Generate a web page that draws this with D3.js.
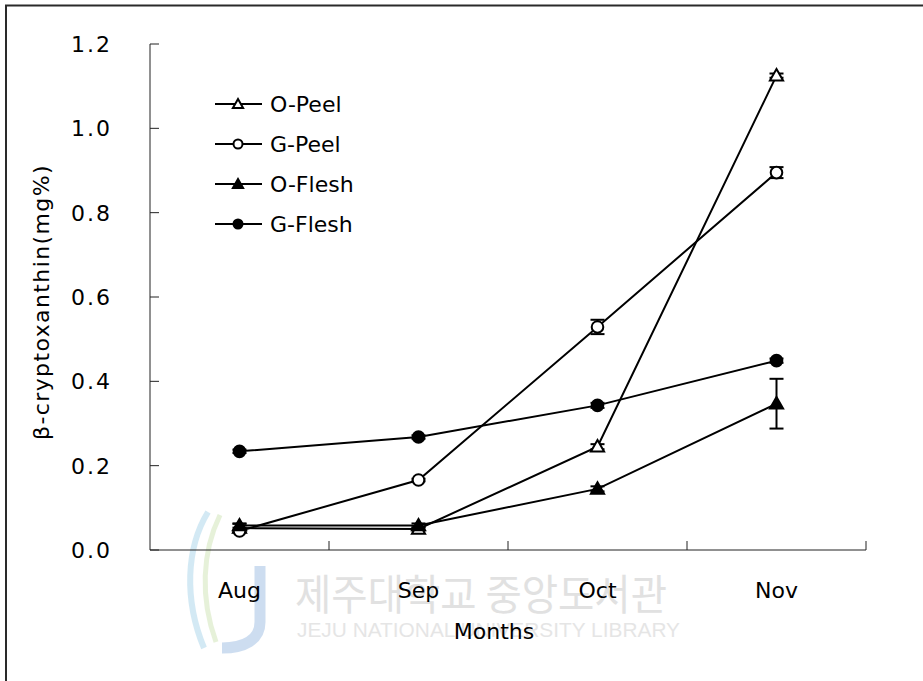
<!DOCTYPE html>
<html>
<head>
<meta charset="utf-8">
<script src="https://cdn.jsdelivr.net/npm/d3@7"></script>
<style>
  body { margin: 0; background: #fff; }
  text { font-family: "DejaVu Sans", "Liberation Sans", sans-serif; fill: #000; }
</style>
</head>
<body>
<script>
const months = ["Aug", "Sep", "Oct", "Nov"]
const yTicks = [0, 0.2, 0.4, 0.6, 0.8, 1.0, 1.2]

// series values (mg%) and error bars
const oPeel = [0.052, 0.050, 0.245, 1.125]
const oPeelErr = [0.010, 0.004, 0.006, 0.005]
const gPeel = [0.045, 0.166, 0.529, 0.895]
const gPeelErr = [0.003, 0.003, 0.017, 0.013]
const oFlesh = [0.058, 0.058, 0.145, 0.347]
const oFleshErr = [0.005, 0.005, 0.006, 0.059]
const gFlesh = [0.234, 0.268, 0.343, 0.449]
const gFleshErr = [0.004, 0.004, 0.006, 0.005]

const seriesNames = ["O-Peel", "G-Peel", "O-Flesh", "G-Flesh"]

const series = [
    { name: seriesNames[0], values: oPeel, err: oPeelErr, shape: "triangle", fill: "#fff" },
    { name: seriesNames[1], values: gPeel, err: gPeelErr, shape: "circle", fill: "#fff" },
    { name: seriesNames[2], values: oFlesh, err: oFleshErr, shape: "triangle", fill: "#000" },
    { name: seriesNames[3], values: gFlesh, err: gFleshErr, shape: "circle", fill: "#000" }
]

const svg = d3.select("body").append("svg")
    .attr("width", 923)
    .attr("height", 681)

// frame (left and top edges only visible)
svg.append("path")
    .attr("d", "M6,690 V5.5 H930")
    .attr("fill", "none")
    .attr("stroke", "#2a2a2a")
    .attr("stroke-width", 2)

// watermark
const wm = svg.append("g").attr("opacity", 0.5)
wm.append("path")
    .attr("d", "M208,512 C186,548 184,600 204,648")
    .attr("fill", "none").attr("stroke", "#a8d4ea").attr("stroke-width", 6)
wm.append("path")
    .attr("d", "M220,515 C202,552 200,598 216,642")
    .attr("fill", "none").attr("stroke", "#cfe4b4").attr("stroke-width", 5)
wm.append("path")
    .attr("d", "M260,566 V622 C260,640 244,648 222,648")
    .attr("fill", "none").attr("stroke", "#9dbde3").attr("stroke-width", 11)
wm.append("text")
    .attr("x", 295).attr("y", 610)
    .attr("textLength", 372)
    .attr("lengthAdjust", "spacingAndGlyphs")
    .style("font-family", "'Noto Sans CJK KR', sans-serif")
    .style("font-size", "42px")
    .style("fill", "#c4c4c4")
    .text("제주대학교 중앙도서관")
wm.append("text")
    .attr("x", 297).attr("y", 637)
    .attr("textLength", 383)
    .attr("lengthAdjust", "spacingAndGlyphs")
    .style("font-family", "'Liberation Sans Narrow', 'Liberation Sans', sans-serif")
    .style("font-size", "20px")
    .style("fill", "#cdcdcd")
    .text("JEJU NATIONAL UNIVERSITY LIBRARY")

const x = d3.scaleBand()
    .domain(months)
    .range([150, 866])

const y = d3.scaleLinear()
    .domain([0, 1.2])
    .range([550, 44])

// y axis
svg.append("line")
    .attr("x1", 150).attr("x2", 150)
    .attr("y1", y(1.2)).attr("y2", y(0))
    .attr("stroke", "#222").attr("stroke-width", 1)

svg.selectAll(".ytick")
    .data(yTicks)
    .enter()
    .append("line")
    .attr("x1", 150).attr("x2", 159)
    .attr("y1", d => y(d)).attr("y2", d => y(d))
    .attr("stroke", "#222")

svg.selectAll(".ylab")
    .data(yTicks)
    .enter()
    .append("text")
    .attr("x", 112)
    .attr("y", d => y(d) + 8)
    .attr("text-anchor", "end")
    .style("font-size", "22px")
    .style("letter-spacing", "2px")
    .text(d => d.toFixed(1))

// x axis
svg.append("line")
    .attr("x1", 150).attr("x2", 866)
    .attr("y1", 550).attr("y2", 550)
    .attr("stroke", "#222")

svg.selectAll(".xtick")
    .data(months.slice(1).map(m => x(m)).concat([866]))
    .enter()
    .append("line")
    .attr("x1", d => d).attr("x2", d => d)
    .attr("y1", 550).attr("y2", 541)
    .attr("stroke", "#222")

svg.selectAll(".xlab")
    .data(months)
    .enter()
    .append("text")
    .attr("x", d => x(d) + x.bandwidth() / 2)
    .attr("y", 598)
    .attr("text-anchor", "middle")
    .style("font-size", "22px")
    .text(d => d)

svg.append("text")
    .attr("x", 494).attr("y", 639)
    .attr("text-anchor", "middle")
    .style("font-size", "22px")
    .text("Months")

svg.append("text")
    .attr("transform", "translate(49,302) rotate(-90)")
    .attr("text-anchor", "middle")
    .style("font-size", "22px")
    .style("letter-spacing", "1.4px")
    .text("β-cryptoxanthin(mg%)")

const cx = m => x(m) + x.bandwidth() / 2
const line = d3.line()
    .x((d, i) => cx(months[i]))
    .y(d => y(d))

const triangle = d3.symbol().type(d3.symbolTriangle)

function marker(g, shape, fill, big) {
    if (shape === "circle") {
        g.append("circle")
            .attr("r", big ? 5.8 : 4.5)
            .attr("fill", fill)
            .attr("stroke", "#000")
            .attr("stroke-width", 2)
    } else {
        g.append("path")
            .attr("d", triangle.size(big ? 75 : 45)())
            .attr("transform", "translate(0,1)")
            .attr("fill", fill)
            .attr("stroke", "#000")
            .attr("stroke-width", 2)
    }
}

series.forEach(s => {
    svg.append("path")
        .datum(s.values)
        .attr("d", line)
        .attr("fill", "none")
        .attr("stroke", "#000")
        .attr("stroke-width", 2)
})

series.forEach(s => {
    s.values.forEach((v, i) => {
        const px = cx(months[i])
        const g = svg.append("g")
        g.append("line")
            .attr("x1", px).attr("x2", px)
            .attr("y1", y(v - s.err[i])).attr("y2", y(v + s.err[i]))
            .attr("stroke", "#000").attr("stroke-width", 2)
        ;[v - s.err[i], v + s.err[i]].forEach(e => {
            g.append("line")
                .attr("x1", px - 7).attr("x2", px + 7)
                .attr("y1", y(e)).attr("y2", y(e))
                .attr("stroke", "#000").attr("stroke-width", 2)
        })
        const m = svg.append("g").attr("transform", `translate(${px},${y(v)})`)
        marker(m, s.shape, s.fill, true)
    })
})

// legend
const legend = svg.append("g")
series.forEach((s, i) => {
    const ly = 104 + i * 40
    legend.append("line")
        .attr("x1", 215).attr("x2", 262)
        .attr("y1", ly).attr("y2", ly)
        .attr("stroke", "#000").attr("stroke-width", 2)
    const m = legend.append("g").attr("transform", `translate(238,${ly})`)
    marker(m, s.shape, s.fill, false)
    legend.append("text")
        .attr("x", 270).attr("y", ly + 8)
        .style("font-size", "22px")
        .text(s.name)
})
</script>
</body>
</html>
